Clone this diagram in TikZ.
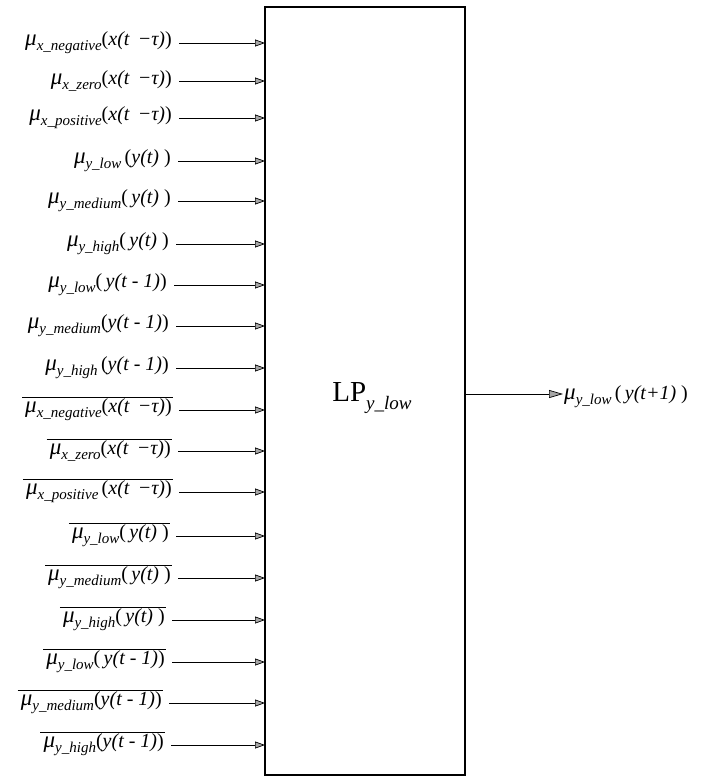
\documentclass[tikz,border=0pt]{standalone}
\usepackage{fontspec}
\setmainfont{Liberation Serif}
\usetikzlibrary{arrows.meta}
\newcommand\lsb[1]{\raisebox{-5pt}{\fontsize{15}{15}\selectfont\itshape #1}}
\newcommand\mymu[2]{{\fontsize{23}{23}\selectfont\itshape μ}\lsb{#1}#2}
\tikzset{
  lab/.style={anchor=east, inner sep=1pt, font=\fontsize{20}{22}\selectfont},
  inarr/.style={-{Triangle[length=10pt,width=7pt,fill=gray!70]}, line width=0.7pt},
  ovl/.style={line width=0.7pt}
}
\begin{document}
\begin{tikzpicture}[x=1pt,y=-1pt]
\useasboundingbox (0,0) rectangle (717,779);
\node[draw, line width=1.2pt, minimum width=200pt, minimum height=768pt, inner sep=0pt, outer sep=0pt] (box) at (365,391) {};
\node[font=\fontsize{29}{30}\selectfont, inner sep=0pt] (lp) at (372,398) {LP\raisebox{-8pt}{\fontsize{19}{19}\selectfont\itshape y\_low}};
% inputs
\node[lab] (l1) at (173,43) {\mymu{x\_negative}{(\textit{x(t \,−τ)})}};
\node[lab] (l2) at (173,81) {\mymu{x\_zero}{(\textit{x(t \,−τ)})}};
\node[lab] (l3) at (173,118) {\mymu{x\_positive}{(\textit{x(t \,−τ)})}};
\node[lab] (l4) at (172,161) {\mymu{y\_low}{\,(\textit{y(t)} )}};
\node[lab] (l5) at (172,201) {\mymu{y\_medium}{(\,\textit{y(t)} )}};
\node[lab] (l6) at (170,244) {\mymu{y\_high}{(\,\textit{y(t)} )}};
\node[lab] (l7) at (168,285) {\mymu{y\_low}{(\,\textit{y(t - 1)})}};
\node[lab] (l8) at (170,326) {\mymu{y\_medium}{(\textit{y(t - 1)})}};
\node[lab] (l9) at (170,368) {\mymu{y\_high}{\,(\textit{y(t - 1)})}};
\node[lab] (l10) at (173,410) {\mymu{x\_negative}{(\textit{x(t \,−τ)})}};
\node[lab] (l11) at (172,451) {\mymu{x\_zero}{(\textit{x(t \,−τ)})}};
\node[lab] (l12) at (173,492) {\mymu{x\_positive}{\,(\textit{x(t \,−τ)})}};
\node[lab] (l13) at (170,536) {\mymu{y\_low}{(\,\textit{y(t)} )}};
\node[lab] (l14) at (172,578) {\mymu{y\_medium}{(\,\textit{y(t)} )}};
\node[lab] (l15) at (166,620) {\mymu{y\_high}{(\,\textit{y(t)} )}};
\node[lab] (l16) at (166,662) {\mymu{y\_low}{(\,\textit{y(t - 1)})}};
\node[lab] (l17) at (163,703) {\mymu{y\_medium}{(\textit{y(t - 1)})}};
\node[lab] (l18) at (165,745) {\mymu{y\_high}{(\textit{y(t - 1)})}};
\foreach \i in {1,...,18} {
  \draw[inarr] ([xshift=6pt]l\i.east) -- (l\i.east -| box.west);
}
\foreach \i in {10,...,18} {
  \draw[ovl] ([yshift=0pt,xshift=-2pt]l\i.north west) -- ([yshift=0pt]l\i.north east);
}
% output
\node[lab, anchor=west] (out) at (563,397) {\mymu{y\_low}{\,(\,\textit{y(t+1)} )}};
\draw[inarr, -{Triangle[length=14pt,width=8pt,fill=gray!70]}] (box.east |- 0,394) -- (out.west |- 0,394);
\end{tikzpicture}
\end{document}
